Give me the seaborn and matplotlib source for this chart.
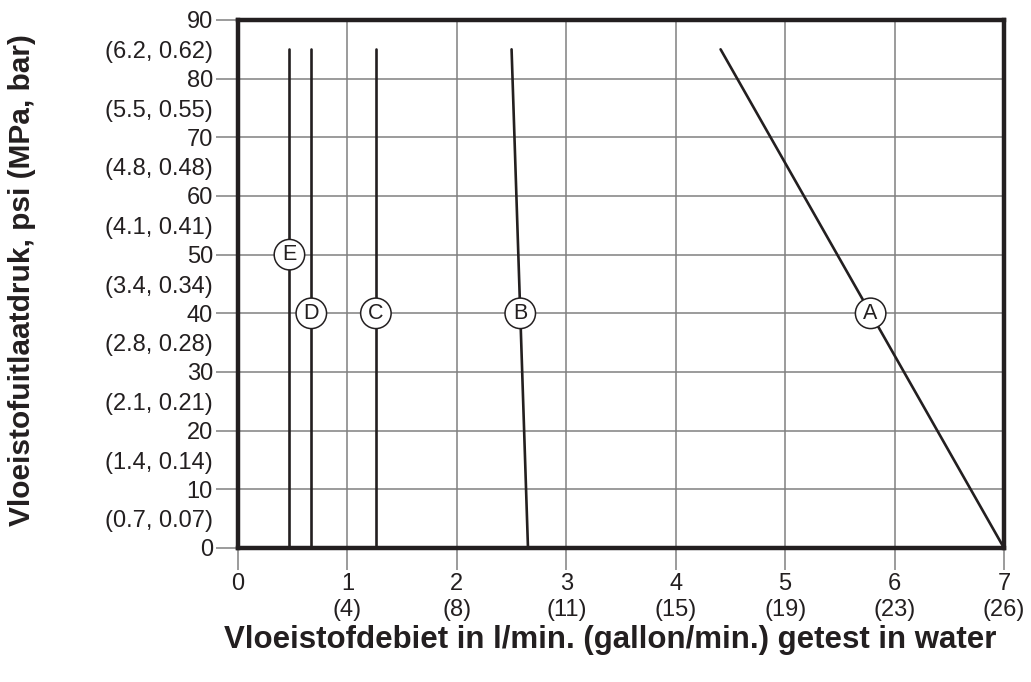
import numpy as np
import pandas as pd
import matplotlib
matplotlib.use("Agg")
import matplotlib.pyplot as plt
import seaborn as sns

# flow (l/min) vs outlet pressure (psi) for each curve
curve_names = ["A", "B", "C", "D", "E"]
flow_top = [4.41, 2.50, 1.26, 0.67, 0.47]
flow_bottom = [7.0, 2.65, 1.26, 0.67, 0.47]
pressure_top = [85, 85, 85, 85, 85]
pressure_bottom = [0, 0, 0, 0, 0]
label_pressure = [40, 40, 40, 40, 50]

x_ticks = [0, 1, 2, 3, 4, 5, 6, 7]
x_tick_labels = ["0", "1\n(4)", "2\n(8)", "3\n(11)", "4\n(15)", "5\n(19)", "6\n(23)", "7\n(26)"]
y_ticks = [0, 10, 20, 30, 40, 50, 60, 70, 80, 90]
y_minor = [5, 15, 25, 35, 45, 55, 65, 75, 85]
y_minor_labels = ["(0.7, 0.07)", "(1.4, 0.14)", "(2.1, 0.21)", "(2.8, 0.28)", "(3.4, 0.34)",
                  "(4.1, 0.41)", "(4.8, 0.48)", "(5.5, 0.55)", "(6.2, 0.62)"]

rows = []
for name, x0, x1, y0, y1 in zip(curve_names, flow_top, flow_bottom, pressure_top, pressure_bottom):
    rows.append({"curve": name, "flow": x0, "pressure": y0})
    rows.append({"curve": name, "flow": x1, "pressure": y1})
df = pd.DataFrame(rows)

sns.set_style("white")
plt.rcParams["font.family"] = ["Liberation Sans", "DejaVu Sans"]

fig = plt.figure(figsize=(10.31, 6.82), dpi=100)
ax = fig.add_axes([238 / 1031, 134 / 682, 766 / 1031, 528 / 682])

ink = "#231f20"
grid_col = "#808080"
for x in x_ticks[1:-1]:
    ax.axvline(x, color=grid_col, lw=1.1, zorder=1)
for y in y_ticks[1:-1]:
    ax.axhline(y, color=grid_col, lw=1.1, zorder=1)

sns.lineplot(data=df, x="flow", y="pressure", hue="curve", units="curve", estimator=None,
             palette=[ink] * 5, linewidth=1.9, legend=False, sort=False, ax=ax, zorder=3)

# circled curve letters
for name, x0, x1, y0, y1, yl in zip(curve_names, flow_top, flow_bottom, pressure_top,
                                    pressure_bottom, label_pressure):
    xl = np.interp(yl, [y1, y0], [x1, x0])
    ax.text(xl, yl, name, ha="center", va="center", fontsize=15.5, color=ink, zorder=5,
            bbox=dict(boxstyle="circle,pad=0.22", fc="white", ec=ink, lw=1.1))

ax.set_xlim(0, 7)
ax.set_ylim(0, 90)
ax.set_xticks(x_ticks)
ax.set_xticklabels(x_tick_labels, fontsize=17, linespacing=1.25)
ax.set_yticks(y_ticks)
ax.set_yticklabels([str(v) for v in y_ticks], fontsize=17)
ax.set_yticks(y_minor, minor=True)
ax.set_yticklabels(y_minor_labels, minor=True, fontsize=17)
ax.tick_params(axis="both", which="major", direction="out", length=16, width=1.1,
               color=grid_col, pad=2, labelcolor=ink, bottom=True, left=True)
ax.tick_params(axis="y", which="minor", length=0, pad=18, labelcolor=ink, left=True)
ax.tick_params(axis="x", which="major", pad=2)

for s in ax.spines.values():
    s.set_linewidth(3.2)
    s.set_color(ink)
    s.set_zorder(4)

ax.set_xlabel("Vloeistofdebiet in l/min. (gallon/min.) getest in water", fontsize=22.5,
              fontweight="bold", color=ink)
ax.set_ylabel("Vloeistofuitlaatdruk, psi (MPa, bar)", fontsize=21.5, fontweight="bold",
              color=ink)
ax.xaxis.set_label_coords(0.486, -0.175)
ax.xaxis.label.set_va("center")
ax.yaxis.set_label_coords(-0.282, 0.508)
ax.yaxis.label.set_va("center")

fig.savefig("out.png", dpi=100)
